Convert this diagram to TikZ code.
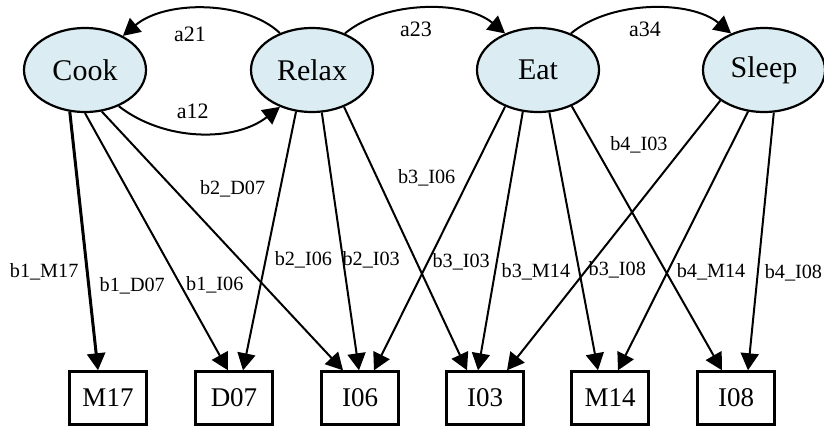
\documentclass[tikz,border=0pt]{standalone}
\usepackage{fontspec}
\setmainfont{Liberation Serif}
\usetikzlibrary{shapes.geometric,arrows.meta}
\definecolor{statefill}{RGB}{219,237,243}
\begin{document}
\begin{tikzpicture}[x=0.5pt,y=-0.5pt,
    state/.style={ellipse,draw,line width=1.1pt,fill=statefill,minimum width=61pt,minimum height=42pt,inner sep=0pt,font=\fontsize{15}{17}\selectfont},
    obs/.style={rectangle,draw,line width=1.2pt,minimum width=38.5pt,minimum height=26.5pt,inner sep=0pt,font=\fontsize{13.5}{15}\selectfont},
    edge/.style={line width=1pt,-{Triangle[length=8.5pt,width=9pt]}},
    lbl/.style={inner sep=1pt,font=\fontsize{10.1}{12}\selectfont},
    albl/.style={inner sep=1pt,font=\fontsize{11}{13}\selectfont}]
    \useasboundingbox (0,0) rectangle (824,429);
    % hidden states
    \node[state] (cook) at (85,70) {Cook};
    \node[state] (relax) at (312,70) {Relax};
    \node[state] (eat) at (538,70) {Eat};
    \node[state] (sleep) at (764,70) {Sleep};
    % observations
    \node[obs] (m17) at (108,398) {M17};
    \node[obs] (d07) at (234,398) {D07};
    \node[obs] (i06) at (360,398) {I06};
    \node[obs] (i03) at (485,398) {I03};
    \node[obs] (m14) at (610,398) {M14};
    \node[obs] (i08) at (736,398) {I08};
    % transitions
    \draw[edge] (relax.131) .. controls (245,0) and (165,0) .. (cook.42) node[albl,midway,below=7.7pt,xshift=-7pt] {a21};
    \draw[edge] (cook.-47) .. controls (165,142) and (235,142) .. (relax.-131) node[albl,midway,above=5.7pt,xshift=-3.5pt] {a12};
    \draw[edge] (relax.48) .. controls (385,0) and (465,0) .. (eat.132) node[albl,midway,below=5.5pt,xshift=-4.5pt] {a23};
    \draw[edge] (eat.48) .. controls (611,0) and (691,0) .. (sleep.132) node[albl,midway,below=5.5pt,xshift=-3pt] {a34};
    % emissions
    \draw[edge,line width=1.5pt] (cook.-110) -- ([xshift=-5pt]m17.north) node[lbl,pos=.62,anchor=east,xshift=-2.7pt] {b1\_M17};
    \draw[edge] (cook.-90) -- ([xshift=-3pt]d07.north) node[lbl,pos=.67,anchor=east,xshift=-6.5pt] {b1\_D07};
    \draw[edge] (cook.-68) -- ([xshift=-8.5pt]i06.north) node[lbl,pos=.67,anchor=east,xshift=-8.5pt] {b1\_I06};
    \draw[edge] (relax.-111) -- ([xshift=4.5pt]d07.north) node[lbl,pos=.3,anchor=east,xshift=-6pt] {b2\_D07};
    \draw[edge] (relax.-77) -- ([xshift=-0.5pt]i06.north) node[lbl,pos=.57,anchor=east,xshift=-4pt] {b2\_I06};
    \draw[edge] (relax.-49) -- ([xshift=-9pt]i03.north) node[lbl,pos=.58,anchor=east,xshift=-6.3pt] {b2\_I03};
    \draw[edge] (eat.-132) -- ([xshift=7pt]i06.north) node[lbl,pos=.27,anchor=east,xshift=-5.7pt] {b3\_I06};
    \draw[edge] (eat.-110) -- ([xshift=-3.5pt]i03.north) node[lbl,pos=.58,anchor=east,xshift=-2pt] {b3\_I03};
    \draw[edge] (eat.-75) -- ([xshift=-6pt]m14.north) node[lbl,pos=.62,anchor=east,xshift=-3.2pt] {b3\_M14};
    \draw[edge] (eat.-47) -- ([xshift=-7pt]i08.north) node[lbl,pos=.62,anchor=east,xshift=-8pt] {b3\_I08};
    \draw[edge] (sleep.-145) -- ([xshift=11pt]i03.north) node[lbl,pos=.165,anchor=east,xshift=-7.3pt] {b4\_I03};
    \draw[edge] (sleep.-111) -- ([xshift=4pt]m14.north) node[lbl,pos=.62,anchor=west,xshift=3.2pt] {b4\_M14};
    \draw[edge] (sleep.-77) -- ([xshift=6pt]i08.north) node[lbl,pos=.62,anchor=west,xshift=2pt] {b4\_I08};
\end{tikzpicture}
\end{document}
